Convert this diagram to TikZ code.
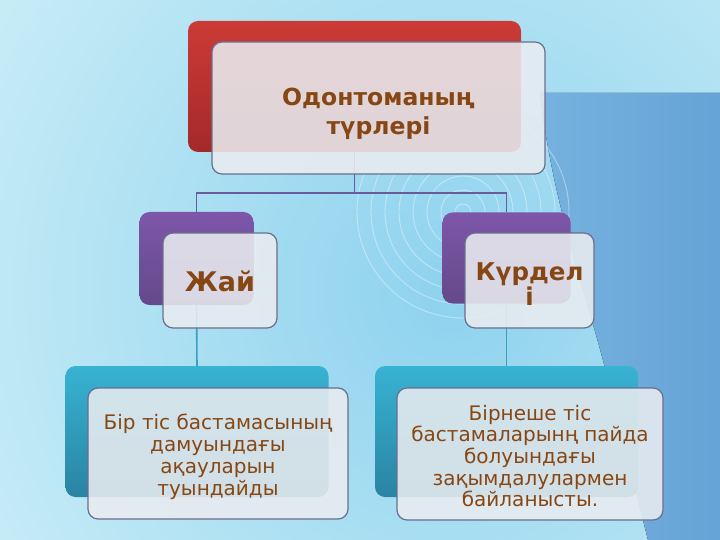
\documentclass[tikz,border=0pt]{standalone}
\usepackage{fontspec}
\setmainfont{DejaVu Sans}
\usepackage{tikz}
\usetikzlibrary{positioning}
\definecolor{skyout}{HTML}{CBEEF7}
\definecolor{skyin}{HTML}{8ED2EE}
\definecolor{panelL}{HTML}{76B2DF}
\definecolor{panelR}{HTML}{66A3D6}
\definecolor{redtop}{HTML}{CC3B36}
\definecolor{redbot}{HTML}{A32929}
\definecolor{violtop}{HTML}{7E56A9}
\definecolor{violbot}{HTML}{64498B}
\definecolor{tealtop}{HTML}{38B3D3}
\definecolor{tealbot}{HTML}{2A83A3}
\definecolor{myframe}{HTML}{6B6E8E}
\definecolor{mypane}{HTML}{E9ECF0}
\definecolor{mybrown}{HTML}{874714}
\definecolor{linkviol}{HTML}{6A5C9C}
\definecolor{linkteal}{HTML}{3E9DC0}
\tikzstyle{back} = [rectangle, rounded corners=10pt, inner sep=0pt, outer sep=0pt]
\tikzstyle{front} = [rectangle, rounded corners=10pt, inner sep=0pt, outer sep=0pt, draw=myframe, line width=1.2pt, fill=mypane, fill opacity=0.88]
\tikzstyle{txt} = [text=mybrown, align=center, inner sep=0pt]

\begin{document}
\begin{tikzpicture}[x=1pt, y=-1pt, link/.style={line width=1.6pt}, ring/.style={draw=white, draw opacity=0.4, line width=0.9pt}]
    \useasboundingbox (0,0) rectangle (720,540);
    % background
    \begin{scope}
    \clip (0,0) rectangle (720,540);
    \fill[inner color=skyin, outer color=skyout] (450,290) circle (570);
    \end{scope}
    \fill[left color=panelL, right color=panelR] (540,93) -- (720,93) -- (720,540) -- (648,540) -- (605,368) .. controls (585,290) and (552,200) .. (540,93) -- cycle;
    \foreach \r in {8,22,...,106}
        \draw[ring] (463,212) circle (\r);
    % boxes behind
    \node[back, top color=redtop, bottom color=redbot, minimum width=333pt, minimum height=131pt] (tb) at (354.5,86.5) {};
    \node[back, top color=violtop, bottom color=violbot, minimum width=114pt, minimum height=93pt] (lb) at (196.5,258.5) {};
    \node[back, top color=violtop, bottom color=violbot, minimum width=128pt, minimum height=91pt] (rb) at (506.5,258) {};
    \node[back, top color=tealtop, bottom color=tealbot, minimum width=263pt, minimum height=131pt] (blb) at (197,431.5) {};
    \node[back, top color=tealtop, bottom color=tealbot, minimum width=263pt, minimum height=131pt] (brb) at (506.5,431.5) {};
    % connectors
    \coordinate (fork) at (354.5,193);
    \draw[link, linkviol] (tb.south) -- (fork) -| (lb.north);
    \draw[link, linkviol] (fork) -| (rb.north);
    \draw[link, linkteal] (lb.south) -- (blb.north);
    \draw[link, linkteal] (rb.south) -- (brb.north);
    % boxes in front
    \node[front, minimum width=333pt, minimum height=132pt] (tf) at (378.5,108) {};
    \node[front, minimum width=114pt, minimum height=95pt] (lf) at (220,280.5) {};
    \node[front, minimum width=129pt, minimum height=95pt] (rf) at (529.5,280.5) {};
    \node[front, minimum width=260pt, minimum height=131pt] (blf) at (218,453.5) {};
    \node[front, minimum width=266pt, minimum height=132pt] (brf) at (530,454) {};
    % texts
    \node[txt, font=\bfseries\fontsize{23.5}{29.5}\selectfont] (tft) at ([yshift=-6]tf.center) {Одонтоманың\\түрлері};
    \node[txt, font=\bfseries\fontsize{27}{30}\selectfont] (lft) at ([yshift=-1]lf.center) {Жай};
    \node[txt, font=\bfseries\fontsize{24.5}{25}\selectfont] (rft) at ([yshift=-4]rf.center) {Күрдел\\і};
    \node[txt, font=\fontsize{20}{22}\selectfont] (blft) at ([yshift=-3]blf.center) {Бір тіс бастамасының\\дамуындағы\\ақауларын\\туындайды};
    \node[txt, font=\fontsize{20}{21.7}\selectfont] (brft) at ([yshift=-2]brf.center) {Бірнеше тіс\\бастамаларынң пайда\\болуындағы\\зақымдалулармен\\байланысты.};
\end{tikzpicture}
\end{document}
